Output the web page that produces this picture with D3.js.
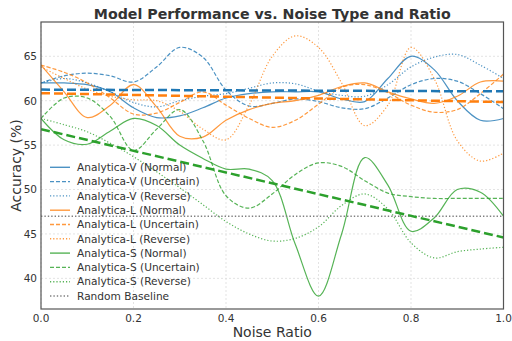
<!DOCTYPE html>
<html><head><meta charset="utf-8">
<script src="https://cdn.jsdelivr.net/npm/d3@7/dist/d3.min.js"></script>
<style>body{margin:0;background:#fff}svg{display:block}text{font-family:"DejaVu Sans",sans-serif}</style>
</head><body><svg id="c" width="512" height="341"></svg>
<script>
// ---- data ----
const noiseRatio = [0,0.05,0.1,0.15,0.2,0.25,0.3,0.35,0.4,0.45,0.5,0.55,0.6,0.65,0.7,0.75,0.8,0.85,0.9,0.95,1.0];
const vNormal    = [62.0,62.0,61.8,61.0,59.2,58.1,58.3,59.2,60.3,60.8,61.0,61.0,61.0,60.2,59.9,62.5,65.0,63.5,60.0,57.8,58.0];
const vUncertain = [62.0,62.8,63.1,62.8,62.1,63.8,66.0,64.9,61.2,59.4,59.7,60.2,59.9,59.2,59.1,60.3,61.8,62.5,62.2,60.8,59.1];
const vReverse   = [62.0,62.5,62.0,61.0,59.8,59.3,60.0,60.5,60.8,61.4,62.0,61.9,61.1,60.6,60.5,61.8,63.8,64.9,65.2,64.0,62.5];
const lNormal    = [64.0,61.0,58.1,59.5,61.8,59.3,56.0,55.9,57.8,59.0,59.7,60.0,60.6,61.6,62.0,61.0,60.2,59.7,60.5,62.1,62.2];
const lUncertain = [64.0,63.2,62.0,60.3,58.5,58.6,59.8,61.0,59.5,58.0,57.0,57.8,59.6,61.5,61.8,60.9,59.5,58.7,59.0,60.8,63.0];
const lReverse   = [63.8,62.5,61.3,60.5,60.1,60.0,58.8,56.8,55.6,59.5,65.0,67.3,66.0,62.0,57.2,59.5,66.0,62.5,55.5,53.2,54.1];
const sNormal    = [58.0,55.6,55.1,56.6,58.0,57.2,55.0,53.5,52.3,52.3,51.0,43.8,38.0,45.0,53.6,50.5,45.3,46.8,50.0,49.7,47.0];
const sUncertain = [58.0,60.3,60.3,58.2,54.4,56.8,59.0,55.5,49.3,47.9,49.5,51.7,53.0,52.6,51.0,49.6,49.2,49.0,49.0,49.0,49.0];
const sReverse   = [58.0,57.3,56.5,55.2,53.7,52.0,50.2,48.3,46.4,45.0,44.2,44.5,45.8,48.2,49.5,47.8,44.0,42.3,43.0,43.3,43.5];
const randomBaseline = 47.0;
const trendX = [0, 1];
const vTrend = [61.25, 61.05];
const lTrend = [60.85, 59.85];
const sTrend = [56.8, 44.6];
const seriesNames = ["Analytica-V (Normal)","Analytica-V (Uncertain)","Analytica-V (Reverse)",
  "Analytica-L (Normal)","Analytica-L (Uncertain)","Analytica-L (Reverse)",
  "Analytica-S (Normal)","Analytica-S (Uncertain)","Analytica-S (Reverse)"];
const seriesValues = [vNormal,vUncertain,vReverse,lNormal,lUncertain,lReverse,sNormal,sUncertain,sReverse];
const xTicks = [0,0.2,0.4,0.6,0.8,1.0];
const yTicks = [40,45,50,55,60,65];

// ---- styles ----
const colors = ["#1f77b4","#ff7f0e","#2ca02c"];
const dashes = [null,"4,2","1.2,2"];

const W=512,H=341, m={l:41,r:8.5,t:22,b:32};
const svg=d3.select("#c");
const x=d3.scaleLinear().domain([0,1]).range([m.l,W-m.r]);
const y=d3.scaleLinear().domain([36.55,68.86]).range([H-m.b,m.t]);

// grid
const g=svg.append("g");
g.selectAll(".gx").data(xTicks).join("line").attr("x1",d=>x(d)).attr("x2",d=>x(d))
 .attr("y1",m.t).attr("y2",H-m.b).attr("stroke","#dcdcdc").attr("stroke-width",0.8).attr("stroke-dasharray","2,2");
g.selectAll(".gy").data(yTicks).join("line").attr("y1",d=>y(d)).attr("y2",d=>y(d))
 .attr("x1",m.l).attr("x2",W-m.r).attr("stroke","#dcdcdc").attr("stroke-width",0.8).attr("stroke-dasharray","2,2");

svg.append("clipPath").attr("id","clip").append("rect").attr("x",m.l).attr("y",m.t).attr("width",W-m.l-m.r).attr("height",H-m.t-m.b);
const plot=svg.append("g").attr("clip-path","url(#clip)");
const line=d3.line().x(d=>x(d[0])).y(d=>y(d[1])).curve(d3.curveCatmullRom.alpha(0.5));

seriesValues.forEach((vals,i)=>{
  const c=colors[Math.floor(i/3)], ds=dashes[i%3];
  plot.append("path").datum(noiseRatio.map((r,j)=>[r,vals[j]])).attr("d",line)
   .attr("fill","none").attr("stroke",c).attr("stroke-opacity",0.8).attr("stroke-width",1.2)
   .attr("stroke-dasharray",ds);
});
// baseline
plot.append("line").attr("x1",m.l).attr("x2",W-m.r).attr("y1",y(randomBaseline)).attr("y2",y(randomBaseline))
 .attr("stroke","#808080").attr("stroke-width",1.4).attr("stroke-dasharray","1.4,2");
// trends
[vTrend,lTrend,sTrend].forEach((t,i)=>{
  plot.append("line").attr("x1",x(trendX[0])).attr("x2",x(trendX[1])).attr("y1",y(t[0])).attr("y2",y(t[1]))
   .attr("stroke",colors[i]).attr("stroke-width",2.5).attr("stroke-dasharray","9,4");
});

// frame
svg.append("rect").attr("x",m.l).attr("y",m.t).attr("width",W-m.l-m.r).attr("height",H-m.t-m.b)
 .attr("fill","none").attr("stroke","#555").attr("stroke-width",1.2);

// ticks
svg.selectAll(".xt").data(xTicks).join("text").attr("x",d=>x(d)).attr("y",322).attr("text-anchor","middle")
 .attr("font-size",10.5).attr("fill","#333").text(d=>d.toFixed(1));
svg.selectAll(".yt").data(yTicks).join("text").attr("x",37).attr("y",d=>y(d)+3.8).attr("text-anchor","end")
 .attr("font-size",10.5).attr("fill","#333").text(d=>d);

// labels
svg.append("text").attr("x",(m.l+W-m.r)/2).attr("y",337).attr("text-anchor","middle").attr("font-size",14).attr("fill","#333").text("Noise Ratio");
svg.append("text").attr("transform",`translate(20.5,${(m.t+H-m.b)/2}) rotate(-90)`).attr("text-anchor","middle").attr("font-size",14).attr("fill","#333").text("Accuracy (%)");
svg.append("text").attr("x",(m.l+W-m.r)/2).attr("y",18.5).attr("text-anchor","middle").attr("font-size",14.2).attr("font-weight","bold").attr("fill","#333").text("Model Performance vs. Noise Type and Ratio");

// legend
const lg=svg.append("g");
const items=seriesNames.map((n,i)=>({n,c:colors[Math.floor(i/3)],ds:dashes[i%3],w:1.4,o:0.8}));
items.push({n:"Random Baseline",c:"#808080",ds:"1.4,2",w:1.4,o:1});
items.forEach((it,i)=>{
  const yy=167.3+i*14.3;
  lg.append("line").attr("x1",50).attr("x2",70).attr("y1",yy).attr("y2",yy).attr("stroke",it.c)
   .attr("stroke-width",it.w).attr("stroke-opacity",it.o).attr("stroke-dasharray",it.ds);
  lg.append("text").attr("x",77).attr("y",yy+3.7).attr("font-size",10.6).attr("fill","#333").text(it.n);
});
</script></body></html>
